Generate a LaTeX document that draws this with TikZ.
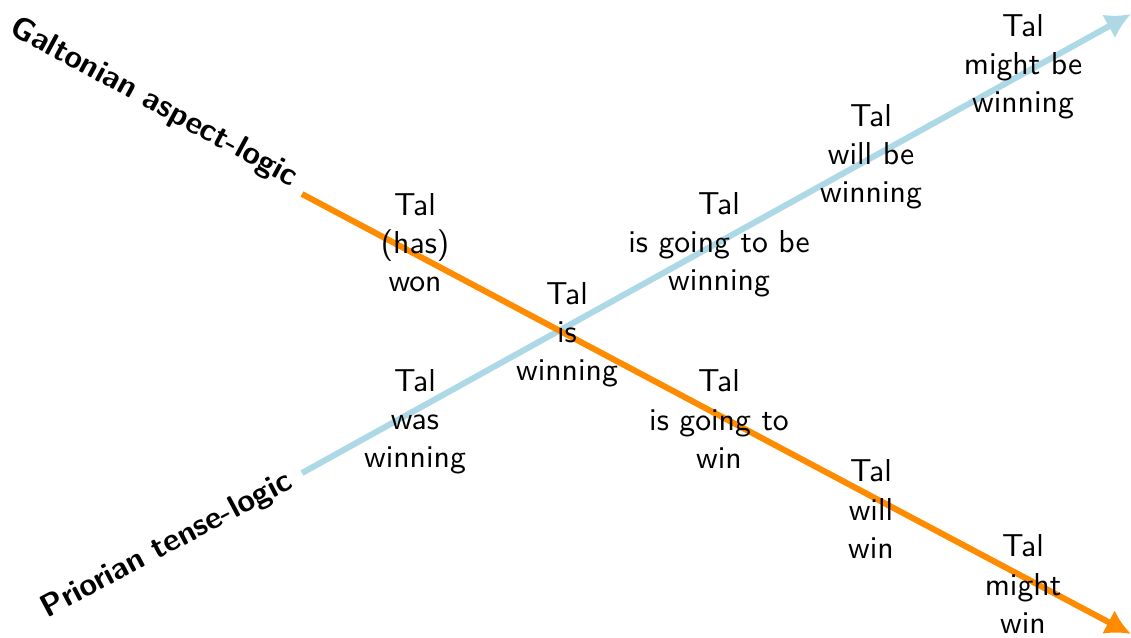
\documentclass[tikz,border=0pt]{standalone}
\usepackage{xcolor}
\usepackage{tikz}
\usetikzlibrary{arrows.meta}
\definecolor{TenseBlue}{HTML}{ADD8E6}
\definecolor{AspectOrange}{HTML}{FF8C00}

\begin{document}
\begin{tikzpicture}[x=0.3155pt,y=-0.3155pt,font=\sffamily,
  tal/.style={align=center,inner sep=0pt},
  axis/.style={line width=1.9pt,-{Latex[length=8pt,width=8.5pt]}},
  logic/.style={font=\sffamily\bfseries,inner sep=0pt}]
\path[use as bounding box] (0,0) rectangle (1131,637);
\coordinate (priorStart) at (302,473);
\coordinate (priorEnd) at (1131,14);
\coordinate (galtonStart) at (302,194);
\coordinate (galtonEnd) at (1131,634);
\draw[axis,TenseBlue] (priorStart) -- (priorEnd);
\draw[axis,AspectOrange] (galtonStart) -- (galtonEnd);
\node[logic,rotate=-28.5] (galton) at (154,103) {Galtonian aspect-logic};
\node[logic,rotate=28] (prior) at (167,546) {Priorian tense-logic};
\node[tal] (hasWon) at (415,243) {Tal\\(has)\\won};
\node[tal] (wasWinning) at (415,422) {Tal\\was\\winning};
\node[tal] (isWinning) at (567,335) {Tal\\is\\winning};
\node[tal] (goingToBeWinning) at (719,245) {Tal\\is going to be\\winning};
\node[tal] (goingToWin) at (719,419) {Tal\\is going to\\win};
\node[tal] (willBeWinning) at (871,157) {Tal\\will be\\winning};
\node[tal] (willWin) at (871,509) {Tal\\will\\win};
\node[tal] (mightBeWinning) at (1023,67) {Tal\\might be\\winning};
\node[tal] (mightWin) at (1023,584) {Tal\\might\\win};
\end{tikzpicture}
\end{document}
